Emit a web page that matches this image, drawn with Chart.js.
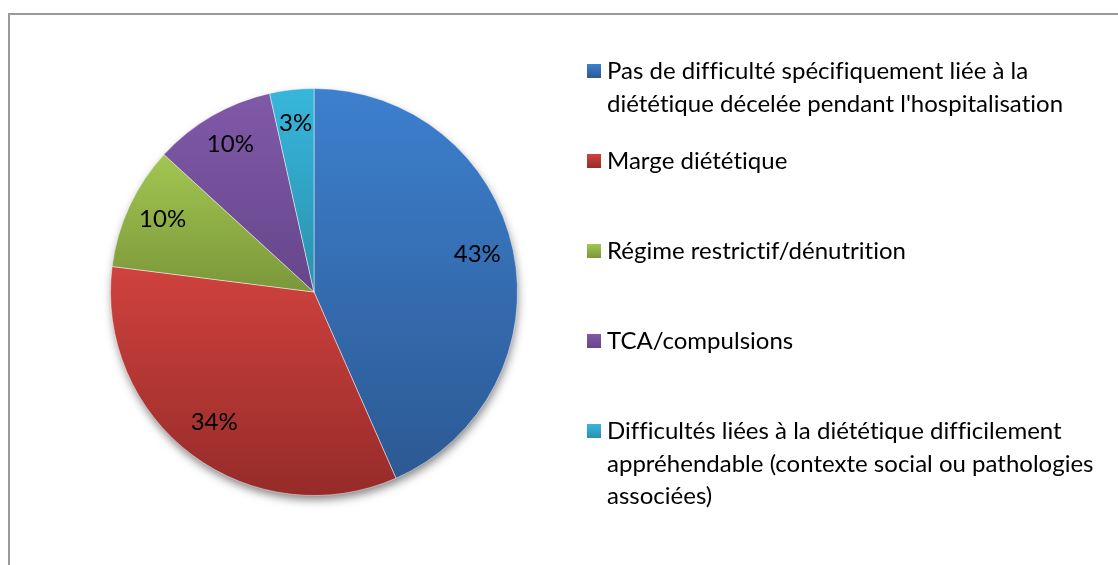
<!DOCTYPE html>
<html><head><meta charset="utf-8">
<script src="https://cdn.jsdelivr.net/npm/chart.js@4.4.1/dist/chart.umd.min.js"></script>
<style>html,body{margin:0;padding:0;background:#fff;overflow:hidden}#wrap{position:relative;width:1118px;height:565px}</style>
</head><body><div id="wrap"><canvas id="c" width="1118" height="565"></canvas></div>
<script>
const categories = [
  ['Pas de difficulté spécifiquement liée à la', "diététique décelée pendant l'hospitalisation"],
  ['Marge diététique'],
  ['Régime restrictif/dénutrition'],
  ['TCA/compulsions'],
  ['Difficultés liées à la diététique difficilement', 'appréhendable (contexte social ou pathologies', 'associées)']
];
const values = [43.4, 33.6, 9.8, 9.7, 3.5];
const pctLabels = ['43%', '34%', '10%', '10%', '3%'];
const colorsTop = ['#3D80CE', '#D0423E', '#A3C651', '#8059A8', '#37B6DB'];
const colorsBottom = ['#2C5993', '#952B29', '#7A973A', '#66468A', '#2A91AE'];

const FONT = '24px Lato, "Open Sans", sans-serif';

function sliceYRange(chart, i) {
  const a = chart.chartArea;
  const cx = (a.left + a.right) / 2, cy = (a.top + a.bottom) / 2;
  const r = Math.min(a.right - a.left, a.bottom - a.top) / 2;
  const total = values.reduce((s, v) => s + v, 0);
  let cum = 0;
  for (let k = 0; k < i; k++) cum += values[k];
  const s = -Math.PI / 2 + cum / total * 2 * Math.PI;
  const e = s + values[i] / total * 2 * Math.PI;
  let ys = [cy, cy + r * Math.sin(s), cy + r * Math.sin(e)];
  for (let t = -Math.PI / 2; t <= 2 * Math.PI; t += Math.PI) {
    if (t >= s && t <= e) ys.push(cy + r * Math.sin(t));
  }
  return [Math.min(...ys), Math.max(...ys)];
}

const shadowPlugin = {
  id: 'shadow',
  beforeDatasetsDraw(chart) {
    const arc = chart.getDatasetMeta(0).data[0];
    if (!arc) return;
    const ctx = chart.ctx;
    ctx.save();
    ctx.shadowColor = 'rgba(0,0,0,0.5)';
    ctx.shadowBlur = 10;
    ctx.shadowOffsetX = 1;
    ctx.shadowOffsetY = 5;
    ctx.beginPath();
    ctx.arc(arc.x, arc.y, arc.outerRadius - 1, 0, Math.PI * 2);
    ctx.fillStyle = '#fff';
    ctx.fill();
    ctx.restore();
  }
};

function setFont(ctx) {
  ctx.font = FONT;
  if ('letterSpacing' in ctx) ctx.letterSpacing = '0.01px';
}

const frameLegendPlugin = {
  id: 'frameLegend',
  beforeDraw(chart) {
    const ctx = chart.ctx;
    ctx.save();
    ctx.fillStyle = '#fff';
    ctx.fillRect(0, 0, chart.width, chart.height);
    ctx.fillStyle = '#9a9a9a';
    ctx.fillRect(8, 13, chart.width - 8, 2);
    ctx.fillRect(8, 13, 2, chart.height - 13);
    ctx.restore();
  },
  afterDatasetsDraw(chart) {
    const ctx = chart.ctx;
    const meta = chart.getDatasetMeta(0);
    ctx.save();
    setFont(ctx);
    ctx.fillStyle = '#000';
    ctx.textAlign = 'center';
    ctx.textBaseline = 'middle';
    meta.data.forEach((arc, i) => {
      const mid = (arc.startAngle + arc.endAngle) / 2;
      const r = arc.outerRadius * 0.82;
      ctx.fillText(pctLabels[i], arc.x + Math.cos(mid) * r, arc.y + Math.sin(mid) * r - 3);
    });
    ctx.restore();
  },
  afterDraw(chart) {
    const ctx = chart.ctx;
    ctx.save();
    setFont(ctx);
    ctx.textAlign = 'left';
    ctx.textBaseline = 'alphabetic';
    const boxX = 587, textX = 607, top0 = 64, step = 90, lh = 32.5, box = 14;
    chart.data.labels.forEach((lines, i) => {
      const top = top0 + i * step;
      const g = ctx.createLinearGradient(0, top, 0, top + box);
      g.addColorStop(0, colorsTop[i]);
      g.addColorStop(1, colorsBottom[i]);
      ctx.fillStyle = g;
      ctx.fillRect(boxX, top, box, box);
      ctx.fillStyle = '#000';
      lines.forEach((ln, j) => ctx.fillText(ln, textX, top + 15 + j * lh));
    });
    ctx.restore();
  }
};

new Chart(document.getElementById('c'), {
  type: 'pie',
  data: {
    labels: categories,
    datasets: [{
      data: values,
      backgroundColor: (ctx) => {
        const chart = ctx.chart;
        const i = ctx.dataIndex;
        if (!chart.chartArea || i === undefined) return colorsTop[i || 0];
        const [y0, y1] = sliceYRange(chart, i);
        const g = chart.ctx.createLinearGradient(0, y0, 0, y1);
        g.addColorStop(0, colorsTop[i]);
        g.addColorStop(1, colorsBottom[i]);
        return g;
      },
      borderColor: 'rgba(255,255,255,0.45)',
      borderWidth: 1
    }]
  },
  options: {
    responsive: false,
    animation: false,
    devicePixelRatio: 1,
    layout: { padding: { left: 110, top: 88, right: 600, bottom: 69 } },
    plugins: { legend: { display: false }, tooltip: { enabled: false } }
  },
  plugins: [shadowPlugin, frameLegendPlugin]
});
</script>
</body></html>
